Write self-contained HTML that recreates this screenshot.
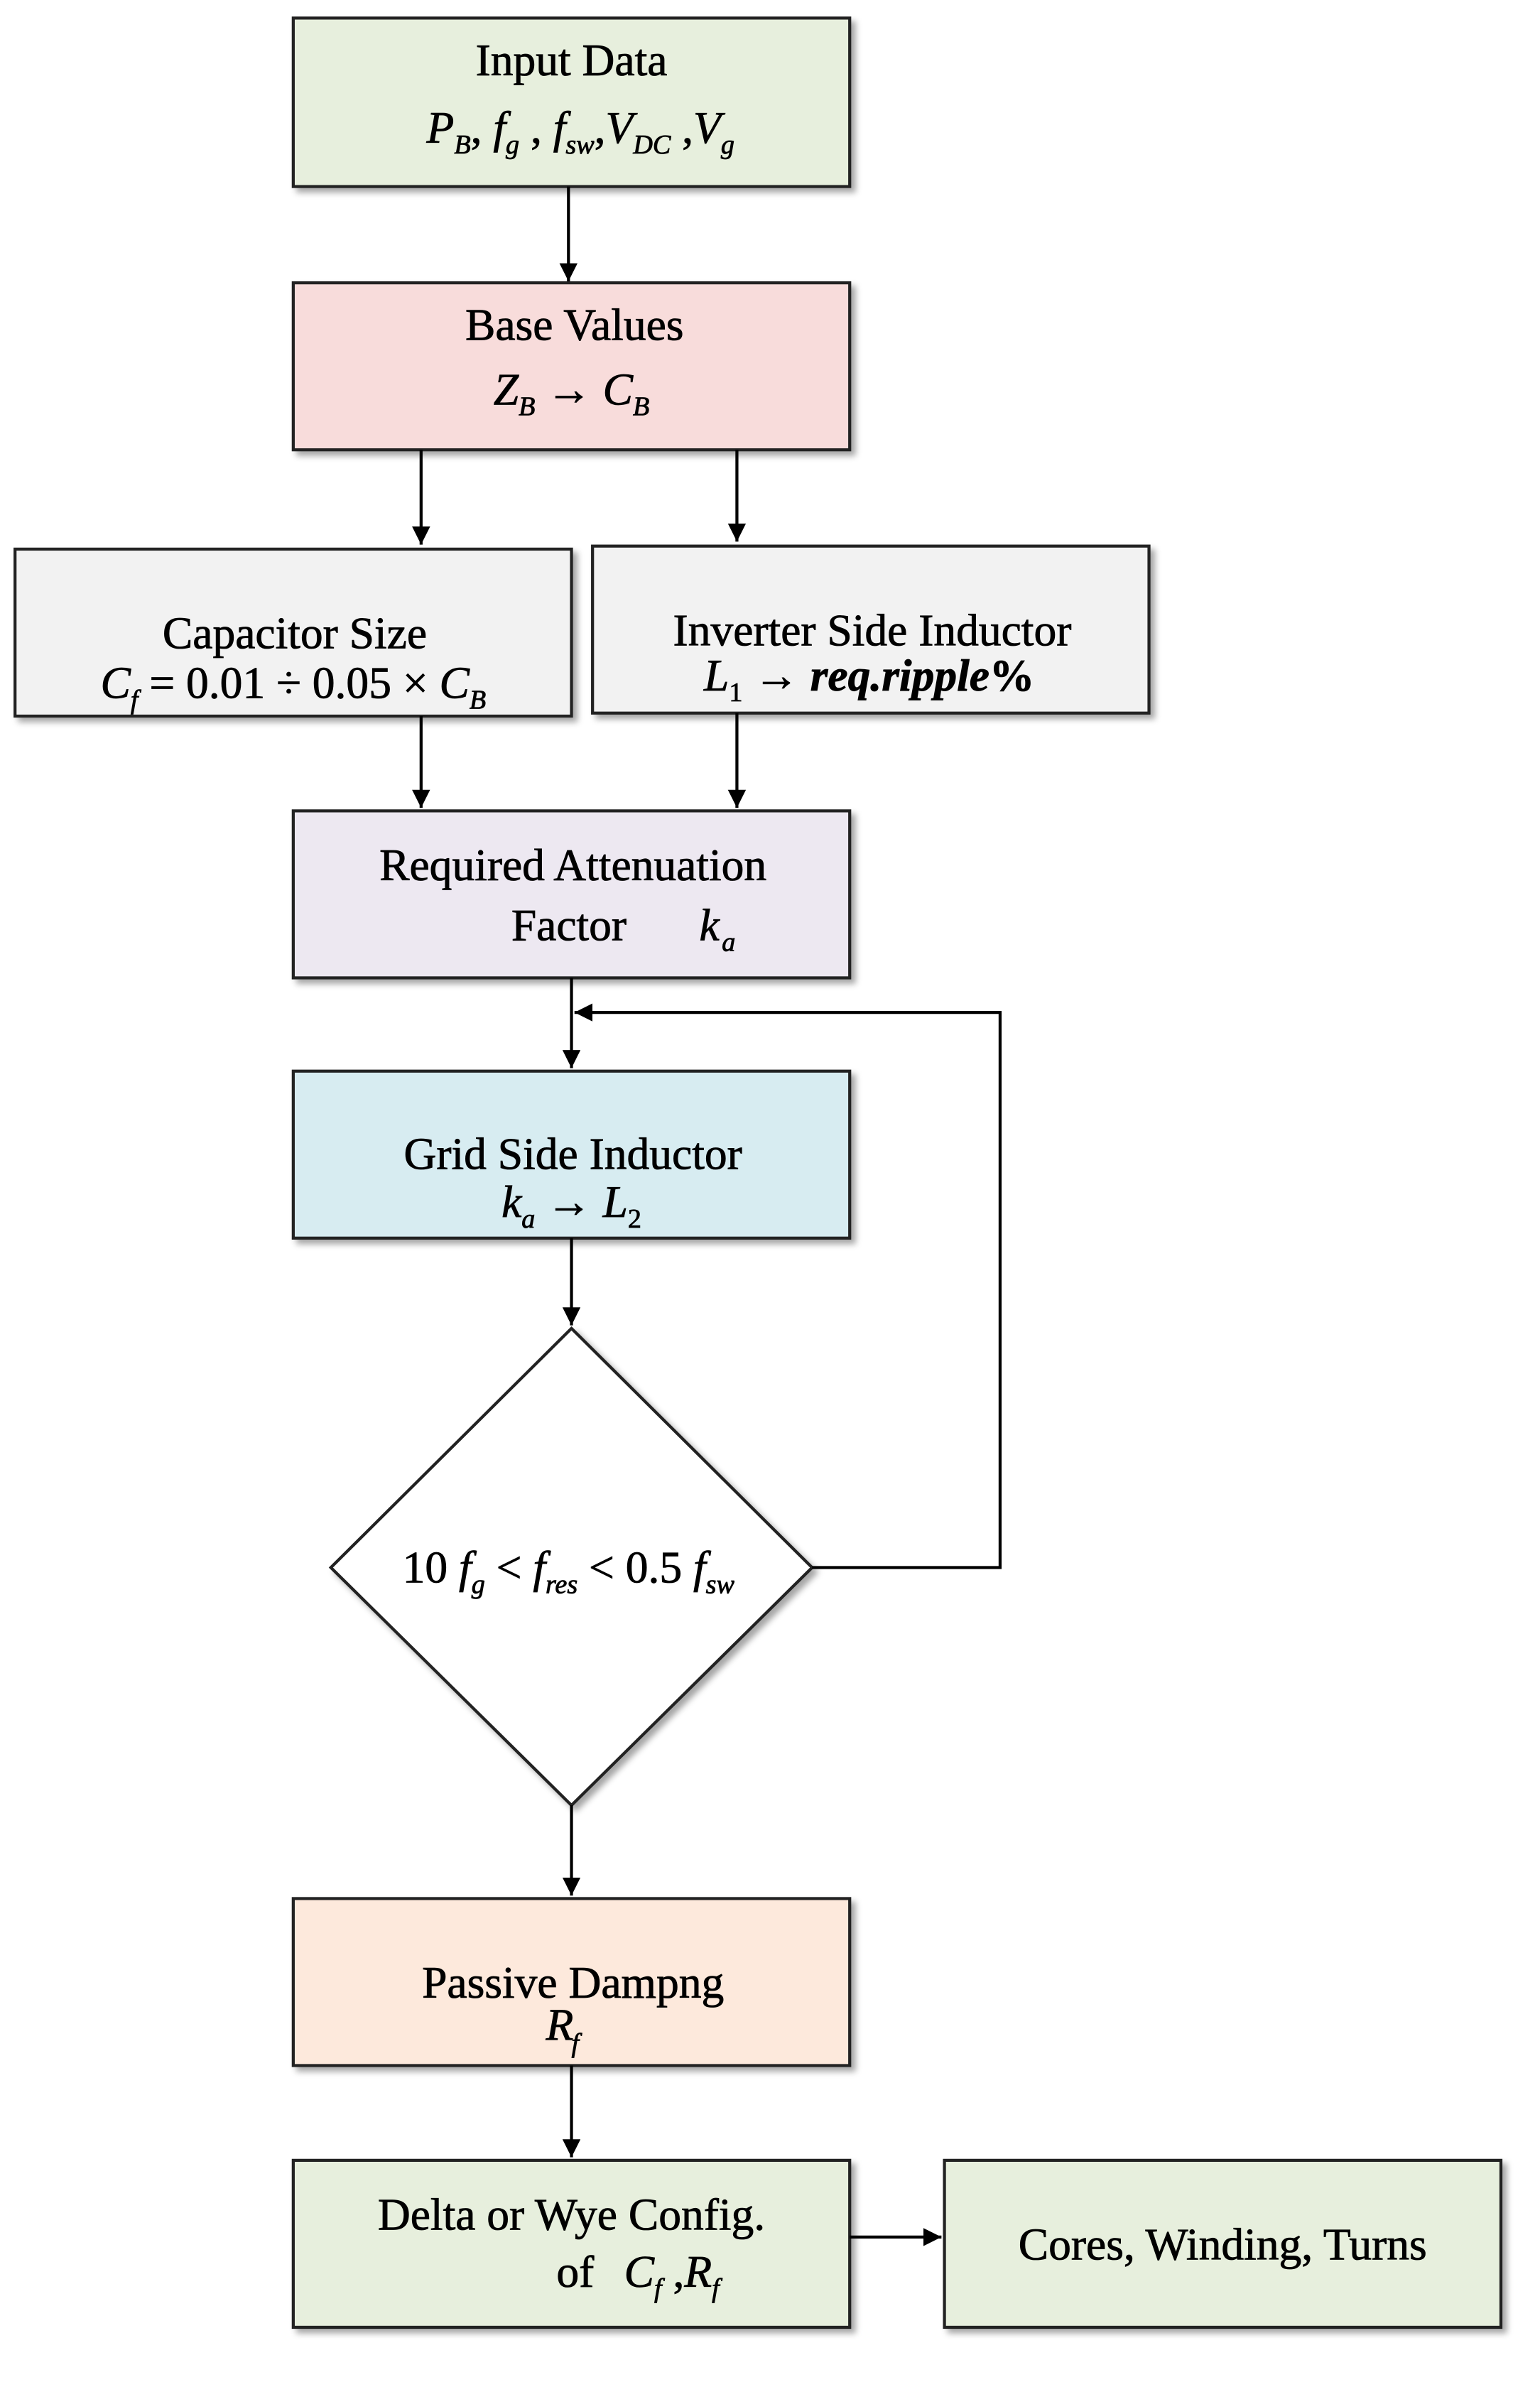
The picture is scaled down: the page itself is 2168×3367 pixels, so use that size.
<!DOCTYPE html>
<html><head><meta charset="utf-8"><style>
html,body{margin:0;padding:0;background:#fff}
svg{display:block}
text{font-family:"Liberation Serif",serif;font-size:30px;fill:#000;stroke:#000;stroke-width:0.4px}
.i{font-style:italic}
.s{font-size:18px;font-style:italic}
</style></head><body>
<svg width="2168" height="3367" viewBox="0 0 1024 1590" preserveAspectRatio="none" xmlns="http://www.w3.org/2000/svg">
<defs>
<marker id="a" viewBox="0 0 10 10" refX="10" refY="5" markerWidth="12" markerHeight="12" orient="auto" markerUnits="userSpaceOnUse"><path d="M0,0 L10,5 L0,10z" fill="#000"/></marker>
<filter id="sh" x="-5%" y="-5%" width="115%" height="120%"><feDropShadow dx="3" dy="3" stdDeviation="2" flood-color="#000" flood-opacity="0.35"/></filter>
</defs>
<g stroke="#222" stroke-width="2" filter="url(#sh)">
<rect x="195" y="12" width="370" height="112" fill="#e7efdd"/>
<rect x="195" y="188" width="370" height="111" fill="#f8dcdb"/>
<rect x="10" y="365" width="370" height="111" fill="#f2f2f2"/>
<rect x="394" y="363" width="370" height="111" fill="#f2f2f2"/>
<rect x="195" y="539" width="370" height="111" fill="#ede8f1"/>
<rect x="195" y="712" width="370" height="111" fill="#d7ecf1"/>
<polygon points="380,883 540,1042 380,1200 220,1042" fill="#fff"/>
<rect x="195" y="1262" width="370" height="111" fill="#fde9dc"/>
<rect x="195" y="1436" width="370" height="111" fill="#e7efdd"/>
<rect x="628" y="1436" width="370" height="111" fill="#e7efdd"/>
</g>
<g stroke="#000" stroke-width="2" fill="none" marker-end="url(#a)">
<line x1="378" y1="124" x2="378" y2="187"/>
<line x1="280" y1="299" x2="280" y2="362"/>
<line x1="490" y1="299" x2="490" y2="360"/>
<line x1="280" y1="476" x2="280" y2="537"/>
<line x1="490" y1="474" x2="490" y2="537"/>
<line x1="380" y1="650" x2="380" y2="710"/>
<line x1="380" y1="823" x2="380" y2="881"/>
<line x1="380" y1="1200" x2="380" y2="1260"/>
<line x1="380" y1="1373" x2="380" y2="1434"/>
<line x1="565" y1="1487" x2="626" y2="1487"/>
<polyline points="540,1042 665,1042 665,673 382,673"/>
</g>
<text x="380" y="50" text-anchor="middle">Input Data</text>
<text x="386" y="95" text-anchor="middle"><tspan class="i">P</tspan><tspan class="s" dy="7">B</tspan><tspan dy="-7">, </tspan><tspan class="i">f</tspan><tspan class="s" dy="7">g</tspan><tspan dy="-7"> , </tspan><tspan class="i">f</tspan><tspan class="s" dy="7">sw</tspan><tspan dy="-7">,</tspan><tspan class="i">V</tspan><tspan class="s" dy="7">DC</tspan><tspan dy="-7"> ,</tspan><tspan class="i">V</tspan><tspan class="s" dy="7">g</tspan></text>
<text x="382" y="226" text-anchor="middle">Base Values</text>
<text x="380" y="269" text-anchor="middle"><tspan class="i">Z</tspan><tspan class="s" dy="7">B</tspan><tspan dy="-7"> → </tspan><tspan class="i">C</tspan><tspan class="s" dy="7">B</tspan></text>
<text x="196" y="431" text-anchor="middle">Capacitor Size</text>
<text x="195" y="464" text-anchor="middle"><tspan class="i">C</tspan><tspan class="s" dy="7">f</tspan><tspan dy="-7"> = 0.01 ÷ 0.05 × </tspan><tspan class="i">C</tspan><tspan class="s" dy="7">B</tspan></text>
<text x="580" y="429" text-anchor="middle">Inverter Side Inductor</text>
<text x="578" y="459" text-anchor="middle"><tspan class="i">L</tspan><tspan style="font-size:18px" dy="7">1</tspan><tspan dy="-7"> → </tspan><tspan class="i" font-weight="bold">req.ripple</tspan><tspan font-weight="bold">%</tspan></text>
<text x="381" y="585" text-anchor="middle">Required Attenuation</text>
<text x="340" y="625" text-anchor="start">Factor</text>
<text x="465" y="625" class="i">k</text><text x="480" y="632" class="s">a</text>
<text x="381" y="777" text-anchor="middle">Grid Side Inductor</text>
<text x="380" y="809" text-anchor="middle"><tspan class="i">k</tspan><tspan class="s" dy="7">a</tspan><tspan dy="-7"> → </tspan><tspan class="i">L</tspan><tspan style="font-size:18px" dy="7">2</tspan></text>
<text x="378" y="1052" text-anchor="middle">10 <tspan class="i">f</tspan><tspan class="s" dy="7">g</tspan><tspan dy="-7"> &lt; </tspan><tspan class="i">f</tspan><tspan class="s" dy="7">res</tspan><tspan dy="-7"> &lt; 0.5 </tspan><tspan class="i">f</tspan><tspan class="s" dy="7">sw</tspan></text>
<text x="381" y="1328" text-anchor="middle">Passive Dampng</text>
<text x="363" y="1356" class="i">R</text><text x="380" y="1364" class="s">f</text>
<text x="380" y="1482" text-anchor="middle">Delta or Wye Config.</text>
<text x="370" y="1520">of </text>
<text x="415" y="1520"><tspan class="i">C</tspan><tspan class="s" dy="7">f</tspan><tspan dy="-7"> ,</tspan><tspan class="i">R</tspan><tspan class="s" dy="7">f</tspan></text>
<text x="813" y="1502" text-anchor="middle">Cores, Winding, Turns</text>
</svg>
</body></html>
